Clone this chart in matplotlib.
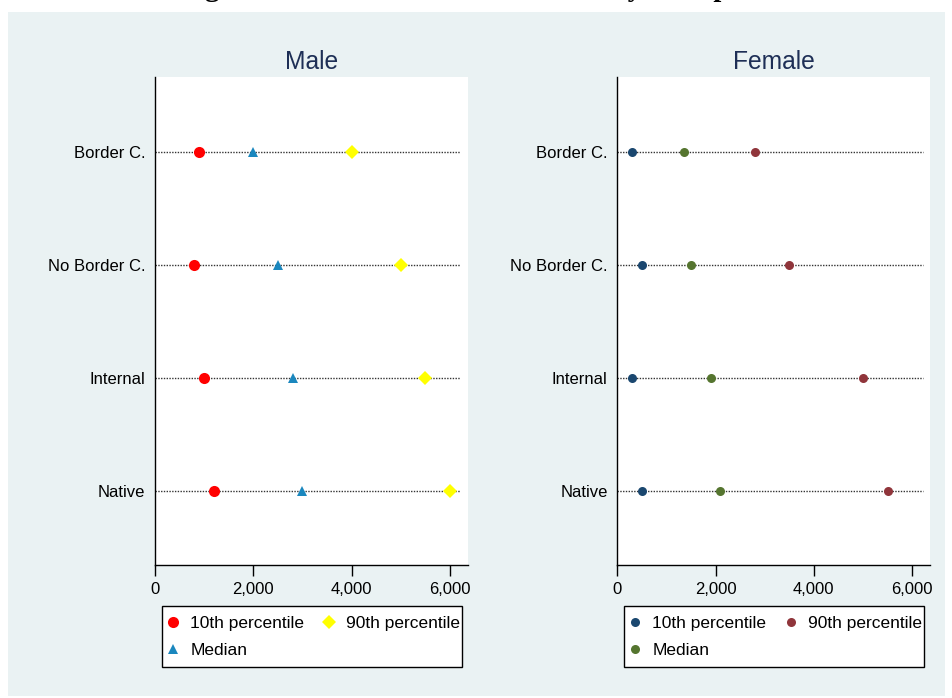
import matplotlib

matplotlib.use("Agg")

import matplotlib.pyplot as plt
import numpy as np
from matplotlib.patches import Rectangle

GROUPS = ["Border C.", "No Border C.", "Internal", "Native"]

MALE_P10 = [900, 800, 1000, 1200]
MALE_MEDIAN = [2000, 2500, 2800, 3000]
MALE_P90 = [4000, 5000, 5500, 6000]

FEMALE_P10 = [300, 500, 300, 500]
FEMALE_MEDIAN = [1350, 1500, 1900, 2100]
FEMALE_P90 = [2800, 3500, 5000, 5500]

X_TICKS = [0, 2000, 4000, 6000]
X_MAX = 6370

BG = "#eaf2f3"
TITLE_COLOR = "#1e2f56"

plt.rcParams.update(
    {
        "font.family": ["Liberation Sans", "DejaVu Sans"],
        "font.size": 12,
        "axes.linewidth": 1.0,
    }
)

W, H = 953, 698
fig = plt.figure(figsize=(W / 100, H / 100), dpi=100)
fig.patch.set_facecolor("white")
fig.patches.append(
    Rectangle((8 / W, 2 / H), 937 / W, 684 / H, transform=fig.transFigure,
              facecolor=BG, edgecolor="none", zorder=-10)
)

# page title, mostly cropped off at the top in the original
fig.text(447 / W, 1 + 3.5 / H, "Wages of Male and Female Workers by Group",
         ha="center", va="baseline", fontsize=20.5, fontweight="bold",
         family=["Liberation Serif", "DejaVu Serif"])


def panel(left, title, series):
    ax = fig.add_axes([left / W, 1 - 565 / H, 313 / W, 488 / H])
    ax.set_facecolor("white")
    y = np.arange(len(GROUPS))
    for yi in y:
        ax.axhline(yi, xmin=0, xmax=0.976, color="#333333", linewidth=1.0,
                   linestyle=(0, (1, 1)), zorder=1)
    handles = []
    for values, label, marker, size, color in series:
        (h,) = ax.plot(values, y, linestyle="none", marker=marker, markersize=size,
                       color=color, markeredgewidth=0, label=label, zorder=3)
        handles.append(h)
    ax.set_xlim(0, X_MAX)
    ax.set_ylim(3.655, -0.664)
    ax.set_yticks(y)
    ax.set_yticklabels(GROUPS, fontsize=12)
    ax.tick_params(axis="y", length=0, pad=7)
    ax.set_xticks(X_TICKS)
    ax.set_xticklabels([f"{v:,}" for v in X_TICKS], fontsize=12)
    ax.tick_params(axis="x", length=8, width=1, pad=4)
    ax.spines["top"].set_visible(False)
    ax.spines["right"].set_visible(False)
    ax.set_title(title, fontsize=17.7, color=TITLE_COLOR, pad=5.5)

    # legend box drawn separately so the labels can run over its edge
    box_left = left + 6.7
    fig.patches.append(
        Rectangle((box_left / W, 1 - 666.7 / H), 300 / W, 61 / H,
                  transform=fig.transFigure, facecolor="white",
                  edgecolor="black", linewidth=1.0, zorder=1)
    )
    leg = fig.legend(
        handles=handles,
        loc="upper left",
        bbox_to_anchor=((box_left + 4.5) / W, 1 - 616 / H),
        ncol=2,
        fontsize=12.5,
        frameon=False,
        borderpad=0,
        labelspacing=0.7,
        handlelength=0.8,
        handletextpad=0.58,
        borderaxespad=0,
        columnspacing=1.03,
    )
    leg.set_zorder(2)
    return ax


panel(155, "Male", [
    (MALE_P10, "10th percentile", "o", 8.0, "#ff0000"),
    (MALE_MEDIAN, "Median", "^", 7.5, "#1a87be"),
    (MALE_P90, "90th percentile", "D", 7.0, "#ffff00"),
])

panel(617.3, "Female", [
    (FEMALE_P10, "10th percentile", "o", 6.5, "#1a476f"),
    (FEMALE_MEDIAN, "Median", "o", 6.5, "#55752f"),
    (FEMALE_P90, "90th percentile", "o", 6.5, "#90353b"),
])

fig.savefig("out.png", dpi=100, facecolor="white")
